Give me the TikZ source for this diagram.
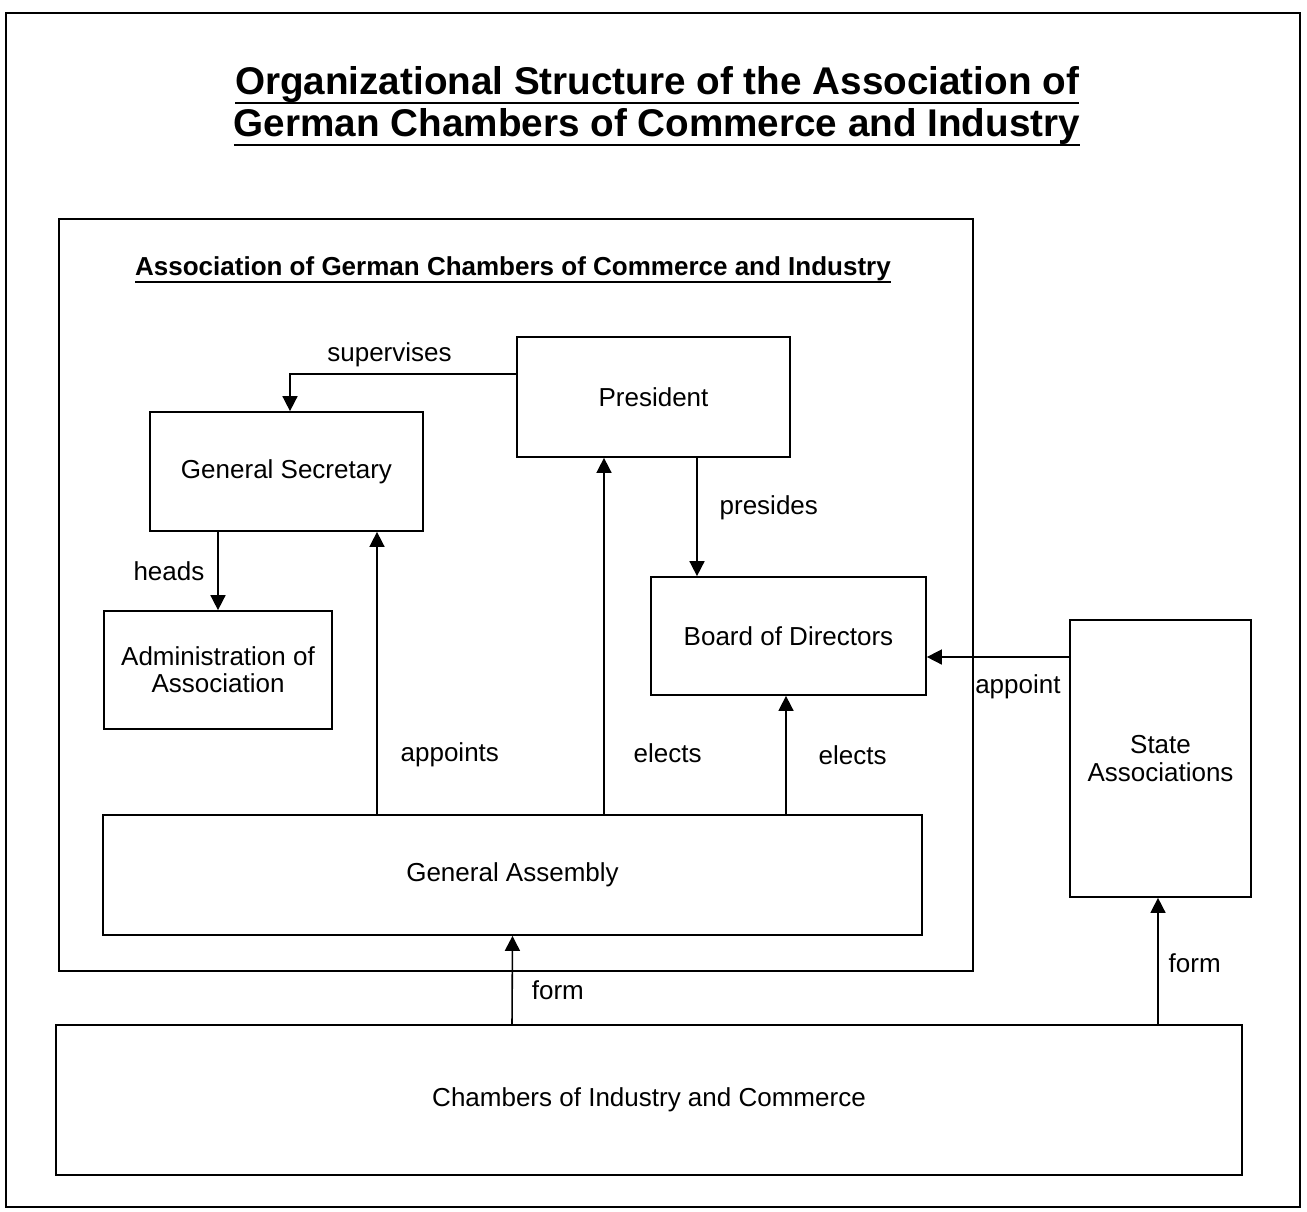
\documentclass[tikz,border=0pt]{standalone}
\usepackage{fontspec}
\setmainfont{Liberation Sans}
\usetikzlibrary{arrows.meta, calc, positioning}

\newsavebox{\ulinebox}
\newcommand{\thickul}[1]{\sbox{\ulinebox}{#1}\rlap{\rule[-\dimexpr\dp\ulinebox+1pt\relax]{\wd\ulinebox}{1.4pt}}\usebox{\ulinebox}}

\begin{document}
\begin{tikzpicture}[x=0.02cm, y=-0.02cm,
    font=\fontsize{14.8}{15.5}\selectfont,
    box/.style={draw, line width=1pt, align=center},
    arr/.style={-{Triangle[length=3mm, width=3mm]}, line width=0.9pt}]
    \useasboundingbox (0,0) rectangle (1307,1211);
    \draw[line width=1pt] (6,13) rectangle (1300,1207);

    \node[font=\fontsize{22}{24}\selectfont\bfseries, align=center] (title) at (657,106)
        {\thickul{Organizational Structure of the Association of}\\\thickul{German Chambers of Commerce and Industry}};

    % association frame
    \draw[line width=1pt] (59,219) rectangle (973,971);
    \node[font=\fontsize{14.8}{15.5}\selectfont\bfseries] (assoc) at (513,270)
        {\thickul{Association of German Chambers of Commerce and Industry}};

    \node[box, minimum width=5.46cm, minimum height=2.4cm] (pres) at (653.5,397) {President};
    \node[box, minimum width=5.46cm, minimum height=2.38cm] (gs) at (286.5,471.5) {General Secretary};
    \node[box, minimum width=4.56cm, minimum height=2.36cm] (admin) at (218,670) {Administration of\\Association};
    \node[box, minimum width=5.5cm, minimum height=2.36cm] (board) at (788.5,636) {Board of Directors};
    \node[box, minimum width=16.38cm, minimum height=2.4cm] (ga) at (512.5,875) {General Assembly};

    \node[box, minimum width=3.62cm, minimum height=5.54cm] (state) at (1160.5,758.5) {State\\Associations};
    \node[box, minimum width=23.72cm, minimum height=3cm] (chambers) at (649,1100) {Chambers of Industry and Commerce};

    \draw[arr] ($(pres.west)+(0,-23)$) -| node[pos=0.28, above=0cm]{supervises} ($(gs.north)+(3.5,0)$);
    \draw[arr] ($(gs.south)+(-68.5,0)$) -- node[left=0.14cm]{heads} (admin.north);
    \draw[arr] ($(ga.north)+(-135.5,0)$) -- node[pos=0.21, right=0.34cm]{appoints} ($(gs.south)+(90.5,0)$);
    \draw[arr] ($(ga.north)+(91.5,0)$) -- node[pos=0.17, right=0.46cm]{elects} ($(pres.south)+(-49.5,0)$);
    \draw[arr] ($(pres.south)+(43.5,0)$) -- node[pos=0.42, right=0.32cm]{presides} ($(board.north)+(-91.5,0)$);
    \draw[arr] ($(ga.north)+(273.5,0)$) -- node[right=0.52cm]{elects} ($(board.south)+(-2.5,0)$);
    \draw[arr] ($(state.west)+(0,-101.5)$) -- node[pos=0.36, below=0.22cm]{appoint} ($(board.east)+(0,21)$);
    \draw[arr] ($(chambers.north)+(-137,0)$) -- node[pos=0.39, right=0.26cm]{form} (ga.south);
    \draw[arr] ($(chambers.north)+(509,0)$) -- node[pos=0.48, right=0.08cm]{form} ($(state.south)+(-2.5,0)$);
\end{tikzpicture}
\end{document}
